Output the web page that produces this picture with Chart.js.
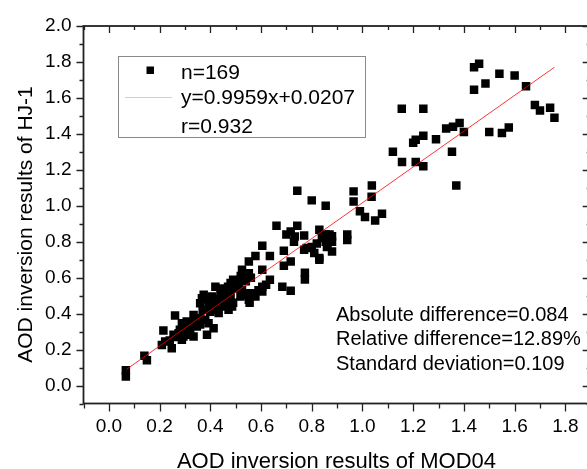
<!DOCTYPE html>
<html><head><meta charset="utf-8">
<script src="https://cdn.jsdelivr.net/npm/chart.js@4.4.0/dist/chart.umd.min.js"></script>
<style>html,body{margin:0;padding:0;overflow:hidden;background:#fff;width:587px;height:469px}canvas{display:block}</style>
</head><body>
<canvas id="c" width="600" height="469"></canvas>
<script>
// ---- data ----
const xTickValues = [0.0,0.2,0.4,0.6,0.8,1.0,1.2,1.4,1.6,1.8];
const xTickLabels = ['0.0','0.2','0.4','0.6','0.8','1.0','1.2','1.4','1.6','1.8'];
const yTickValues = [0.0,0.2,0.4,0.6,0.8,1.0,1.2,1.4,1.6,1.8,2.0];
const yTickLabels = ['0.0','0.2','0.4','0.6','0.8','1.0','1.2','1.4','1.6','1.8','2.0'];
// MOD04 AOD (x) and HJ-1 AOD (y)
const modAOD = [
 1.44,1.46,1.44,1.485,1.54,1.60,1.645,1.68,1.70,1.74,1.757,1.50,1.55,1.577,1.40,1.33,1.357,1.383,1.29,1.155,
 1.24,1.20,1.21,1.24,1.353,1.12,1.156,1.21,1.24,1.37,1.037,1.036,0.965,0.965,0.99,1.01,1.05,1.077,
 0.743,0.80,0.855,0.661,0.743,0.717,0.733,0.77,0.83,0.855,0.88,0.88,0.855,0.82,0.78,0.81,0.83,0.88,0.94,0.94,
 0.77,0.69,0.717,0.69,0.773,0.773,0.684,0.717,0.80,0.83,0.862,0.70,0.86,
 0.067,0.067,0.14,0.15,0.209,0.222,0.215,0.248,0.261,0.275,0.288,0.294,0.288,0.307,0.30,0.32,0.334,0.327,0.347,0.334,
 0.34,0.36,0.38,0.393,0.413,0.387,0.255,0.28,0.36,0.367,0.374,0.407,0.42,0.393,0.42,0.446,0.46,0.486,0.472,0.433,
 0.426,0.413,0.453,0.44,0.42,0.446,0.472,0.48,0.49,0.50,0.512,0.525,0.539,0.519,0.552,0.578,0.555,0.532,0.525,0.552,
 0.519,0.605,0.605,0.59,0.571,0.605,0.635,0.552,0.578,0.635,0.605,0.558,0.532,0.465,0.49,0.40,0.37,0.35,0.31,0.26,
 0.24,0.45,0.50,0.54,0.43,0.47,
 0.45,0.48,0.43,0.39,0.52,0.56,0.62,0.73,0.84,0.87,0.32,0.36
];
const hjAOD = [
 1.77,1.79,1.645,1.68,1.735,1.725,1.665,1.56,1.53,1.545,1.49,1.41,1.405,1.436,1.41,1.43,1.44,1.46,1.37,1.54,
 1.54,1.35,1.367,1.39,1.30,1.30,1.243,1.243,1.22,1.113,1.113,1.05,1.08,1.024,0.97,0.937,0.918,0.955,
 1.083,1.03,1.00,0.889,0.889,0.857,0.829,0.835,0.866,0.84,0.83,0.80,0.80,0.79,0.765,0.737,0.71,0.746,0.84,0.81,
 0.755,0.75,0.69,0.666,0.627,0.59,0.55,0.527,0.77,0.70,0.79,0.84,0.77,
 0.085,0.05,0.165,0.14,0.226,0.245,0.306,0.208,0.39,0.291,0.254,0.273,0.347,0.356,0.328,0.282,0.273,0.338,0.328,0.393,
 0.366,0.375,0.366,0.347,0.319,0.282,0.282,0.31,0.458,0.486,0.505,0.495,0.467,0.449,0.43,0.477,0.449,0.44,0.421,0.403,
 0.421,0.449,0.44,0.505,0.55,0.54,0.523,0.57,0.588,0.58,0.56,0.53,0.505,0.495,0.477,0.495,0.46,0.625,0.644,0.625,
 0.588,0.644,0.55,0.53,0.514,0.523,0.588,0.69,0.72,0.72,0.777,0.514,0.505,0.48,0.46,0.41,0.42,0.35,0.30,0.27,
 0.25,0.50,0.54,0.58,0.48,0.55,
 0.46,0.50,0.46,0.48,0.61,0.60,0.56,0.80,0.82,0.84,0.30,0.34
];
const fitSlope = 0.9959;
const fitIntercept = 0.0207;
const fitXRange = [0.07, 1.757];
const legendTexts = ['n=169', 'y=0.9959x+0.0207', 'r=0.932'];
const statTexts = ['Absolute difference=0.084', 'Relative difference=12.89%', 'Standard deviation=0.109'];
const xTitle = 'AOD inversion results of MOD04';
const yTitle = 'AOD inversion results of HJ-1';

// ---- build ----
const FONT = "'Liberation Sans', Arial, sans-serif";
const points = modAOD.map((x, i) => ({x: x, y: hjAOD[i]}));
const fitLine = fitXRange.map(x => ({x: x, y: fitSlope * x + fitIntercept}));

const decor = {
  id: 'decor',
  afterDraw(chart) {
    const ctx = chart.ctx, a = chart.chartArea;
    const xs = chart.scales.x, ys = chart.scales.y;
    ctx.save();
    // frame
    ctx.strokeStyle = '#222';
    ctx.lineWidth = 1.8;
    ctx.strokeRect(a.left, a.top, a.right - a.left, a.bottom - a.top);
    ctx.lineWidth = 1.3;
    ctx.beginPath();
    for (let i = -1; i <= 19; i++) {
      const px = Math.round(xs.getPixelForValue(i / 10)) + 0.5;
      const major = (i % 2 === 0);
      ctx.moveTo(px, a.bottom); ctx.lineTo(px, a.bottom + (major ? 8 : 5));
      ctx.moveTo(px, a.top); ctx.lineTo(px, a.top + (major ? 7 : 4));
    }
    for (let i = -1; i <= 20; i++) {
      const py = Math.round(ys.getPixelForValue(i / 10)) + 0.5;
      const major = (i % 2 === 0);
      ctx.moveTo(a.left, py); ctx.lineTo(a.left - (major ? 7 : 4), py);
      ctx.moveTo(a.right, py); ctx.lineTo(a.right - (major ? 8 : 4), py);
    }
    ctx.stroke();

    // axis titles
    ctx.fillStyle = '#000';
    ctx.font = '22px ' + FONT;
    ctx.textAlign = 'center';
    ctx.textBaseline = 'alphabetic';
    ctx.fillText(xTitle, 336.5, 468);
    ctx.save();
    ctx.translate(31.5, 224.5);
    ctx.rotate(-Math.PI / 2);
    ctx.font = '21px ' + FONT;
    ctx.fillText(yTitle, 0, 0);
    ctx.restore();

    // legend box
    ctx.fillStyle = '#fff';
    ctx.fillRect(118, 56, 248, 82);
    ctx.strokeStyle = '#8a8a8a';
    ctx.lineWidth = 1;
    ctx.strokeRect(118.5, 56.5, 247, 81);
    ctx.fillStyle = '#000';
    ctx.fillRect(146.5, 66.5, 7.5, 7.5);
    ctx.strokeStyle = 'rgba(255,60,40,0.35)';
    ctx.beginPath(); ctx.moveTo(125, 97.5); ctx.lineTo(172, 97.5); ctx.stroke();
    ctx.font = '21px ' + FONT;
    ctx.textAlign = 'left';
    ctx.fillText(legendTexts[0], 181, 78.5);
    ctx.fillText(legendTexts[1], 181, 104);
    ctx.fillText(legendTexts[2], 181, 133);

    // statistics text
    ctx.font = '20px ' + FONT;
    statTexts.forEach((t, i) => ctx.fillText(t, 336, 320.5 + i * 24.7));
    ctx.restore();
  }
};

new Chart(document.getElementById('c'), {
  type: 'scatter',
  data: {
    datasets: [
      {
        label: 'fit',
        data: fitLine,
        showLine: true,
        borderColor: 'rgba(255,0,0,0.8)',
        borderWidth: 1,
        pointRadius: 0,
        fill: false
      },
      {
        label: 'n=169',
        data: points,
        pointStyle: 'rect',
        pointRadius: 6,
        pointHoverRadius: 6,
        backgroundColor: '#000',
        borderColor: '#000',
        borderWidth: 0
      }
    ]
  },
  options: {
    responsive: false,
    devicePixelRatio: 1,
    animation: false,
    events: [],
    layout: { padding: { left: 0, top: 26, right: 9.3, bottom: 0 } },
    plugins: { legend: { display: false }, tooltip: { enabled: false } },
    scales: {
      x: {
        type: 'linear', position: 'bottom', min: -0.1, max: 1.9,
        afterBuildTicks: s => { s.ticks = xTickValues.map(v => ({value: v})); },
        afterFit: s => { s.height = 65.5; },
        grid: { display: false, drawTicks: false },
        border: { display: false },
        ticks: {
          autoSkip: false, maxRotation: 0, padding: 12, color: '#000',
          font: { family: FONT, size: 19 },
          callback: (v, i) => xTickLabels[i]
        }
      },
      y: {
        type: 'linear', position: 'left', min: -0.1, max: 2.0,
        afterBuildTicks: s => { s.ticks = yTickValues.map(v => ({value: v})); },
        afterFit: s => { s.width = 83.5; },
        grid: { display: false, drawTicks: false },
        border: { display: false },
        ticks: {
          autoSkip: false, padding: 12, color: '#000',
          font: { family: FONT, size: 19 },
          callback: (v, i) => yTickLabels[i]
        }
      }
    }
  },
  plugins: [decor]
});
</script>
</body></html>
